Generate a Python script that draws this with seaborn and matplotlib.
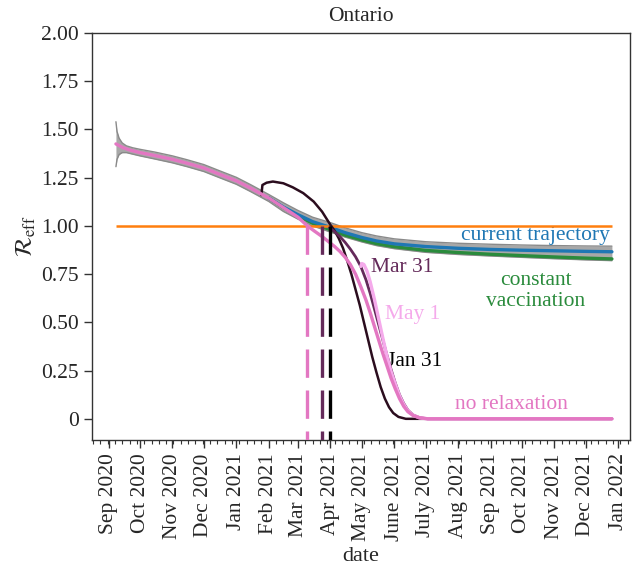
import pandas as pd
import seaborn as sns
import matplotlib.pyplot as plt
import matplotlib.dates as mdates

# ************************************************************************
# Data
# ************************************************************************

band_dates = ['2020-09-08', '2020-09-09', '2020-09-11', '2020-09-14', '2020-09-18', '2020-09-24',
              '2020-10-01', '2020-10-15', '2020-11-01', '2020-11-15', '2020-12-01', '2020-12-15',
              '2021-01-01', '2021-01-15', '2021-02-01', '2021-02-15', '2021-03-01', '2021-03-15',
              '2021-04-01', '2021-04-15', '2021-05-01', '2021-05-15', '2021-06-01', '2021-07-01',
              '2021-08-01', '2021-09-01', '2021-10-01', '2021-11-01', '2021-12-01', '2021-12-26']
band_hi = [1.54, 1.49, 1.455, 1.43, 1.415, 1.405, 1.397, 1.383, 1.363, 1.343, 1.318, 1.288,
           1.252, 1.213, 1.163, 1.12, 1.08, 1.045, 1.017, 0.99, 0.965, 0.948, 0.933, 0.918,
           0.91, 0.905, 0.901, 0.898, 0.896, 0.895]
band_lo = [1.307, 1.345, 1.37, 1.38, 1.38, 1.372, 1.363, 1.347, 1.327, 1.307, 1.282, 1.252,
           1.216, 1.177, 1.127, 1.075, 1.035, 1.0, 0.968, 0.942, 0.917, 0.898, 0.882, 0.863,
           0.852, 0.844, 0.837, 0.83, 0.824, 0.82]

# no relaxation
norelax_dates = ['2020-09-08', '2020-09-15', '2020-09-22', '2020-10-01', '2020-10-15', '2020-11-01',
                 '2020-11-15', '2020-12-01', '2020-12-15', '2021-01-01', '2021-01-15', '2021-02-01',
                 '2021-02-15', '2021-03-01', '2021-03-10', '2021-03-17', '2021-03-24', '2021-03-31',
                 '2021-04-05', '2021-04-10', '2021-04-15', '2021-04-20', '2021-04-25', '2021-04-30',
                 '2021-05-05', '2021-05-09', '2021-05-13', '2021-05-17', '2021-05-21', '2021-05-25',
                 '2021-05-29', '2021-06-02', '2021-06-06', '2021-06-10', '2021-06-14', '2021-06-19',
                 '2021-06-25', '2021-07-03', '2021-12-26']
norelax_vals = [1.425, 1.405, 1.392, 1.38, 1.365, 1.345, 1.325, 1.30, 1.27, 1.234, 1.195, 1.145,
                1.095, 1.045, 1.0, 0.972, 0.945, 0.915, 0.893, 0.868, 0.838, 0.80, 0.75, 0.685,
                0.615, 0.55, 0.48, 0.41, 0.34, 0.275, 0.21, 0.155, 0.105, 0.065, 0.037, 0.017,
                0.006, 0.0, 0.0]

# current trajectory / constant vaccination
traj_dates = ['2021-02-01', '2021-02-15', '2021-03-01', '2021-03-15', '2021-04-01', '2021-04-15',
              '2021-05-01', '2021-05-15', '2021-06-01', '2021-07-01', '2021-08-01', '2021-09-01',
              '2021-10-01', '2021-11-01', '2021-12-01', '2021-12-26']
current_vals = [1.145, 1.098, 1.058, 1.022, 0.992, 0.965, 0.94, 0.922, 0.907, 0.893, 0.884,
                0.878, 0.874, 0.871, 0.868, 0.866]
constvax_vals = [1.145, 1.095, 1.052, 1.014, 0.98, 0.952, 0.927, 0.908, 0.892, 0.873, 0.862,
                 0.853, 0.846, 0.839, 0.833, 0.829]

# relaxation starting Jan 31
jan_dates = ['2021-01-25', '2021-01-26', '2021-01-30', '2021-02-05', '2021-02-15', '2021-02-24',
             '2021-03-06', '2021-03-16', '2021-03-24', '2021-04-01', '2021-04-05', '2021-04-09',
             '2021-04-13', '2021-04-17', '2021-04-21', '2021-04-25', '2021-04-29', '2021-05-03',
             '2021-05-07', '2021-05-11', '2021-05-15', '2021-05-19', '2021-05-23', '2021-05-27',
             '2021-05-31', '2021-06-05', '2021-06-12', '2021-12-26']
jan_vals = [1.16, 1.212, 1.224, 1.23, 1.221, 1.20, 1.17, 1.126, 1.074, 1.005, 0.975, 0.935,
            0.885, 0.82, 0.75, 0.67, 0.59, 0.50, 0.41, 0.32, 0.24, 0.165, 0.105, 0.06,
            0.03, 0.01, 0.0, 0.0]

# relaxation starting Mar 31
mar_dates = ['2021-03-31', '2021-04-05', '2021-04-10', '2021-04-15', '2021-04-20', '2021-04-25',
             '2021-04-30', '2021-05-05', '2021-05-09', '2021-05-13', '2021-05-17', '2021-05-21',
             '2021-05-25', '2021-05-29', '2021-06-02', '2021-06-06', '2021-06-10', '2021-06-14',
             '2021-06-19', '2021-06-25', '2021-07-03', '2021-12-26']
mar_vals = [0.99, 0.97, 0.945, 0.915, 0.88, 0.84, 0.79, 0.72, 0.65, 0.57, 0.49, 0.41,
            0.33, 0.255, 0.185, 0.125, 0.08, 0.045, 0.02, 0.006, 0.0, 0.0]

# relaxation starting May 1
may_dates = ['2021-04-30', '2021-05-01', '2021-05-03', '2021-05-06', '2021-05-09', '2021-05-13',
             '2021-05-17', '2021-05-21', '2021-05-25', '2021-05-29', '2021-06-02', '2021-06-06',
             '2021-06-10', '2021-06-14', '2021-06-19', '2021-06-25', '2021-07-03', '2021-12-26']
may_vals = [0.79, 0.805, 0.80, 0.765, 0.71, 0.62, 0.52, 0.42, 0.325, 0.245, 0.18, 0.12,
            0.075, 0.042, 0.019, 0.005, 0.0, 0.0]

# dates where R_eff crosses 1
cross_dates = ['2021-03-10', '2021-03-24', '2021-04-01']
cross_colors = ['#e377c2', '#642a5a', 'black']

month_labels = ['Sep 2020', 'Oct 2020', 'Nov 2020', 'Dec 2020', 'Jan 2021', 'Feb 2021',
                'Mar 2021', 'Apr 2021', 'May 2021', 'June 2021', 'July 2021', 'Aug 2021',
                'Sep 2021', 'Oct 2021', 'Nov 2021', 'Dec 2021', 'Jan 2022']
y_ticks = [0, 0.25, 0.5, 0.75, 1.0, 1.25, 1.5, 1.75, 2.0]
y_labels = ['0', '0.25', '0.50', '0.75', '1.00', '1.25', '1.50', '1.75', '2.00']

# ************************************************************************
# Plot
# ************************************************************************

sns.set_theme(style='ticks')
plt.rcParams['font.family'] = ['Liberation Serif', 'DejaVu Serif']
plt.rcParams['mathtext.fontset'] = 'stix'
plt.rcParams['xtick.labelsize'] = 15.5
plt.rcParams['ytick.labelsize'] = 15.5

fig, ax = plt.subplots(figsize=(6.38, 5.79), dpi=100)
fig.subplots_adjust(left=0.144, right=0.987, top=0.943, bottom=0.240)

bd = pd.to_datetime(band_dates)
ax.fill_between(bd, band_lo, band_hi, color='#a8a8a8', zorder=2, lw=0)
ax.plot(bd, band_lo, color='#8a8a8a', lw=1, zorder=2)
ax.plot(bd, band_hi, color='#8a8a8a', lw=1, zorder=2)

td = pd.to_datetime(traj_dates)
sns.lineplot(x=td, y=constvax_vals, color='#2a8b3c', lw=2.4, ax=ax, zorder=3)
sns.lineplot(x=td, y=current_vals, color='#1f77b4', lw=2.4, ax=ax, zorder=3)

ax.hlines(1.0, pd.to_datetime(norelax_dates[0]), pd.to_datetime(norelax_dates[-1]),
          color='#ff7f0e', lw=1.8, zorder=3.5)

sns.lineplot(x=pd.to_datetime(jan_dates), y=jan_vals, color='#2b0d1e', lw=1.8,
             estimator=None, sort=False, ax=ax, zorder=4)
sns.lineplot(x=pd.to_datetime(mar_dates), y=mar_vals, color='#642a5a', lw=2.0,
             estimator=None, ax=ax, zorder=4)
sns.lineplot(x=pd.to_datetime(may_dates), y=may_vals, color='#f5aaeb', lw=2.4,
             estimator=None, ax=ax, zorder=4)
sns.lineplot(x=pd.to_datetime(norelax_dates), y=norelax_vals, color='#e377c2', lw=2.4,
             estimator=None, ax=ax, zorder=4.5)

ylo = -0.11
for d, c in zip(cross_dates, cross_colors):
    ax.plot([pd.to_datetime(d)] * 2, [1.0, ylo], color=c, lw=2.4,
            linestyle=(0, (8.5, 3.8)), zorder=5)

# annotations
fs = 15.5
ax.text(pd.to_datetime('2021-10-14'), 0.948, 'current trajectory', color='#1f77b4',
        fontsize=fs, ha='center', va='center')
ax.text(pd.to_datetime('2021-10-14'), 0.663, 'constant\nvaccination', color='#2a8b3c',
        fontsize=fs, ha='center', va='center', linespacing=1.2)
ax.text(pd.to_datetime('2021-05-10'), 0.782, 'Mar 31', color='#642a5a', fontsize=fs,
        ha='left', va='center')
ax.text(pd.to_datetime('2021-05-23'), 0.539, 'May 1', color='#f5aaeb', fontsize=fs,
        ha='left', va='center')
ax.text(pd.to_datetime('2021-05-25'), 0.295, 'Jan 31', color='black', fontsize=fs,
        ha='left', va='center')
ax.text(pd.to_datetime('2021-09-21'), 0.073, 'no relaxation', color='#e377c2', fontsize=fs,
        ha='center', va='center')

ax.set_ylim(ylo, 2.0)
ax.set_xlim(pd.to_datetime('2020-08-16'), pd.to_datetime('2022-01-12'))
ax.set_yticks(y_ticks)
ax.set_yticklabels(y_labels)

month_ticks = pd.date_range('2020-09-01', '2022-01-01', freq='MS')
ax.set_xticks(month_ticks)
ax.set_xticklabels(month_labels, rotation=90)
ax.xaxis.set_minor_locator(mdates.WeekdayLocator(byweekday=mdates.MO))
ax.tick_params(axis='both', which='major', length=6, width=1, color='#333333')
ax.tick_params(axis='x', which='minor', length=3, width=0.8, color='#333333')

for s in ax.spines.values():
    s.set_color('#333333')
    s.set_linewidth(1.0)

ax.set_title('Ontario', fontsize=15.5, pad=9)
ax.set_xlabel('date', fontsize=16)
ax.set_ylabel(r'$\mathcal{R}_{\rm eff}$', fontsize=17, labelpad=2)

plt.savefig('out.png', dpi=100)
